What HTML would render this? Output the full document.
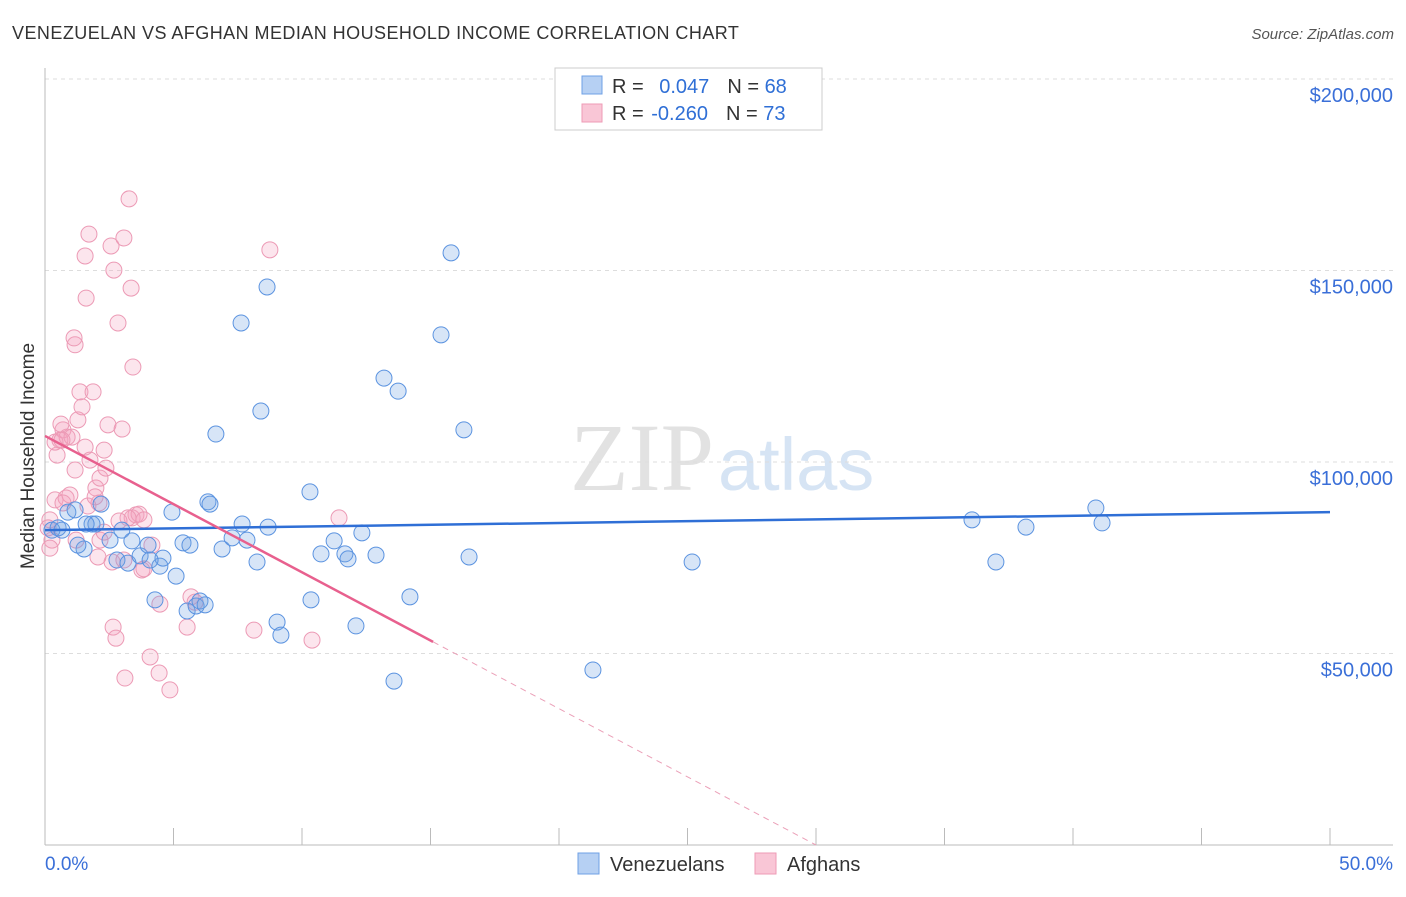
<!DOCTYPE html>
<html><head><meta charset="utf-8"><style>
body{margin:0;background:#fff;font-family:"Liberation Sans",sans-serif}
</style></head><body>
<svg id="c" width="1406" height="892" xmlns="http://www.w3.org/2000/svg">
<text x="12" y="39" font-size="18" fill="#333" letter-spacing="0.45">VENEZUELAN VS AFGHAN MEDIAN HOUSEHOLD INCOME CORRELATION CHART</text>
<text x="1394" y="39" font-size="15" fill="#555" font-style="italic" text-anchor="end">Source: ZipAtlas.com</text>
<text x="714" y="490" font-size="96" fill="#e2e2e2" text-anchor="end" font-family="Liberation Serif">ZIP</text>
<text x="718" y="490" font-size="74" fill="#d6e4f4">atlas</text>
<text x="34" y="456" font-size="19" fill="#333" text-anchor="middle" transform="rotate(-90 34 456)">Median Household Income</text>
<g id="grid"></g><g id="pts"></g><g id="trend"></g>
<g>
<rect x="555" y="68" width="267" height="62" fill="#fff" stroke="#ccc"/>
<rect x="582" y="76" width="20" height="18" fill="#b6d0f3" stroke="#6fa0e6"/>
<rect x="582" y="104" width="20" height="18" fill="#f9c6d6" stroke="#ee9bb6"/>
<text x="612" y="93" font-size="20" fill="#333">R = <tspan fill="#2f6fd6" dx="10">0.047</tspan><tspan dx="18">N = </tspan><tspan fill="#2f6fd6">68</tspan></text>
<text x="612" y="120" font-size="20" fill="#333">R = <tspan fill="#2f6fd6" dx="2">-0.260</tspan><tspan dx="18">N = </tspan><tspan fill="#2f6fd6">73</tspan></text>
</g>
<g>
<rect x="578" y="853" width="21" height="21" fill="#b6d0f3" stroke="#6fa0e6"/>
<text x="610" y="871" font-size="20" fill="#333">Venezuelans</text>
<rect x="755" y="853" width="21" height="21" fill="#f9c6d6" stroke="#ee9bb6"/>
<text x="787" y="871" font-size="20" fill="#333">Afghans</text>
</g>
</svg>
<script>
const yTicks=[50,100,150,200];
const yTickLabels=["$50,000","$100,000","$150,000","$200,000"];
const xTickPcts=[0,5,10,15,20,25,30,35,40,45,50];
const blueX=[0.27,0.51,0.66,0.89,1.17,1.52,1.83,2.18,1.98,2.53,2.80,2.99,3.23,3.38,3.70,4.01,4.28,4.47,4.59,4.94,5.10,5.37,5.53,5.64,5.88,6.03,6.34,6.42,6.65,6.89,7.28,7.63,7.67,7.86,8.25,8.40,8.68,8.64,9.03,9.18,10.31,10.35,10.74,11.25,11.67,11.79,12.10,12.33,12.88,13.19,13.58,13.74,14.20,15.41,15.80,16.30,16.50,21.32,25.18,36.07,37.00,38.17,40.89,41.13,1.60,4.09,6.23,1.28];
const blueY=[82.2,82.8,82.2,86.9,87.5,77.3,83.8,89.0,83.8,79.6,74.4,82.2,73.6,79.4,75.5,78.3,64.0,72.8,74.9,86.9,70.2,78.9,61.1,78.3,62.4,63.7,89.6,89.0,107.3,77.3,80.2,136.3,83.8,79.6,73.9,113.3,83.0,145.7,58.2,54.8,92.2,64.0,76.0,79.4,76.0,74.7,57.2,81.5,75.7,121.9,42.8,118.5,64.8,133.2,154.6,108.4,75.2,45.7,73.9,84.9,73.9,83.0,88.0,84.1,83.8,74.4,62.7,78.3];
const pinkX=[0.27,0.19,0.39,0.47,0.58,0.70,0.86,1.05,0.82,0.97,1.17,1.28,1.36,1.17,1.13,1.44,1.56,1.75,1.87,1.98,2.14,2.30,2.45,2.10,2.37,1.60,1.56,1.71,2.57,2.68,3.07,2.84,3.27,3.35,3.42,3.00,3.39,3.54,3.66,3.23,2.65,2.76,3.11,4.09,4.44,4.86,4.47,3.77,3.85,4.16,2.61,2.06,2.14,1.21,5.53,5.68,5.84,8.13,8.75,10.39,11.44,3.07,2.30,2.88,1.67,0.70,0.19,0.12,0.39,0.62,1.95,0.66,3.85];
const pinkY=[79.6,84.9,90.1,101.8,105.7,108.4,106.5,106.5,90.6,91.4,97.9,111.0,118.3,130.6,132.4,114.4,103.9,100.5,118.3,93.2,95.8,103.1,109.7,89.3,98.4,142.8,153.8,159.5,156.4,150.1,158.5,136.3,168.7,145.4,124.8,108.6,85.4,86.2,86.4,85.4,56.9,54.0,43.6,49.1,44.9,40.5,62.9,71.8,72.1,78.3,73.9,75.2,79.6,79.6,56.9,64.8,63.4,56.1,155.4,53.5,85.4,74.4,81.7,84.6,88.5,89.3,77.5,82.8,105.2,109.9,90.9,105.7,84.9];
const blueTrend=[82.2,86.9];
const pinkTrend=[106.8,-3.56];
const NS="http://www.w3.org/2000/svg";
const X=p=>45+p*25.7, Y=v=>845-v*3.83;
function mk(t,a,p){const e=document.createElementNS(NS,t);for(const k in a)e.setAttribute(k,a[k]);p.appendChild(e);return e;}
const g=document.getElementById('grid');
yTicks.forEach((v,i)=>{
 const l=mk('line',{x1:45,x2:1393,y1:Y(v),y2:Y(v),stroke:'#ddd','stroke-dasharray':'4,4'},g);
 
 
 const t=mk('text',{x:1393,y:Y(v)+23,'font-size':20,fill:'#3a6fd8','text-anchor':'end'},g);
 t.textContent=yTickLabels[i];
 
 
});
mk('line',{x1:45,x2:45,y1:68,y2:845,stroke:'#bbb'},g);
mk('line',{x1:45,x2:1393,y1:845,y2:845,stroke:'#bbb'},g);
xTickPcts.forEach(p=>{
 const l=mk('line',{x1:X(p),x2:X(p),y1:828,y2:845,stroke:'#bbb'},g);
 
 
});
let t0=mk('text',{x:45,y:870,'font-size':19,fill:'#3a6fd8'},g);t0.textContent='0.0%';


let t1=mk('text',{x:1393,y:870,'font-size':19,fill:'#3a6fd8','text-anchor':'end'},g);t1.textContent='50.0%';


const P=document.getElementById('pts');
pinkX.forEach((x,i)=>{
 const c=mk('circle',{cx:X(x),cy:Y(pinkY[i]),r:8,fill:'rgba(244,160,190,0.28)',stroke:'#ec9ab5','stroke-width':1},P);
 
 
});
blueX.forEach((x,i)=>{
 const c=mk('circle',{cx:X(x),cy:Y(blueY[i]),r:8,fill:'rgba(110,160,228,0.28)',stroke:'#5b93e0','stroke-width':1},P);
 
 
});
const T=document.getElementById('trend');
const bl=mk('line',{x1:X(0),y1:Y(blueTrend[0]),x2:X(50),y2:Y(blueTrend[1]),stroke:'#2f6fd6','stroke-width':2.5},T);


const pf=x=>pinkTrend[0]+pinkTrend[1]*x;
const pl=mk('line',{x1:X(0),y1:Y(pf(0)),x2:X(15.1),y2:Y(pf(15.1)),stroke:'#e8608e','stroke-width':2.5},T);


const xe=pinkTrend[0]/-pinkTrend[1];
const pd=mk('line',{x1:X(15.1),y1:Y(pf(15.1)),x2:X(xe),y2:Y(0),stroke:'#eba0b8','stroke-width':1,'stroke-dasharray':'6,5'},T);


</script>
</body></html>
